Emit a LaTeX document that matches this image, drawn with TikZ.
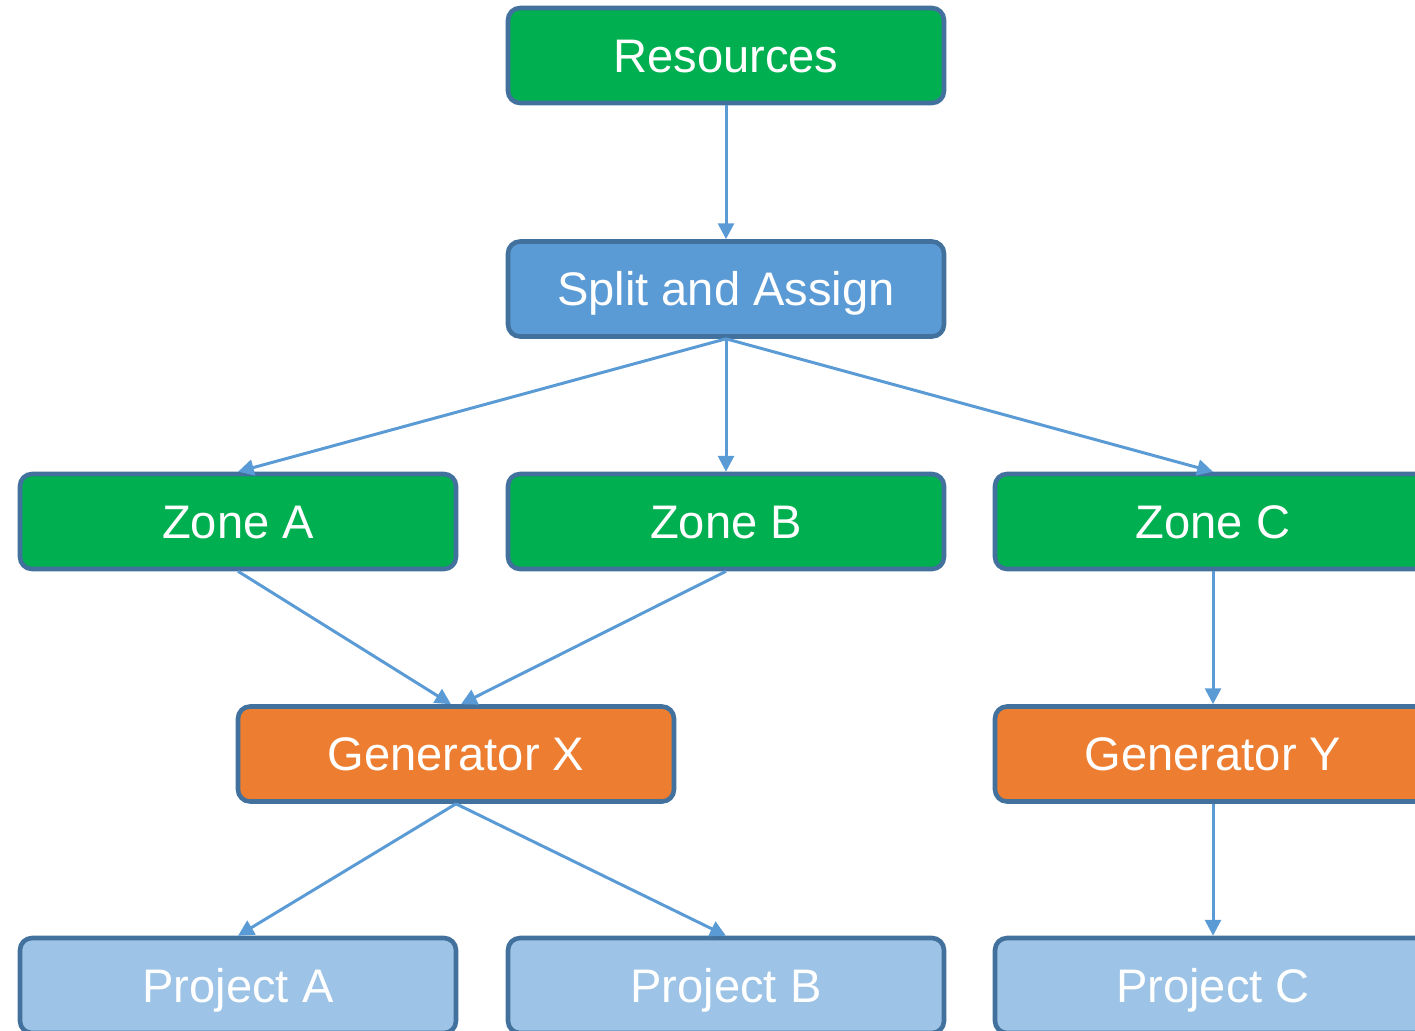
\documentclass[tikz,border=0pt]{standalone}
\usepackage{fontspec}
\setmainfont{Liberation Sans}
\usetikzlibrary{arrows.meta}
\definecolor{boxgreen}{HTML}{00B050}
\definecolor{boxblue}{HTML}{5B9BD5}
\definecolor{boxorange}{HTML}{ED7D31}
\definecolor{boxlight}{HTML}{9DC3E6}
\definecolor{boxedge}{HTML}{41719C}
\definecolor{linkblue}{HTML}{5B9BD5}
\begin{document}
\begin{tikzpicture}[
    box/.style={draw=boxedge,line width=1.3pt,rounded corners=0.12cm,minimum width=4.36cm,minimum height=0.95cm,text=white,font=\fontsize{13.4}{16}\selectfont,inner sep=0pt,text height=9.6pt,text depth=0pt},
    greenbox/.style={box,fill=boxgreen},
    bluebox/.style={box,fill=boxblue},
    orangebox/.style={box,fill=boxorange},
    lightbox/.style={box,fill=boxlight},
    link/.style={draw=linkblue,line width=0.85pt,-{Triangle[width=4.5pt,length=4.5pt]}}
  ]
    \useasboundingbox (0,0) rectangle (14.15,-10.30);
    \node[greenbox] (res) at (7.26,-0.555) {Resources};
    \node[bluebox] (split) at (7.26,-2.89) {Split and Assign};
    \node[greenbox] (zoneA) at (2.38,-5.215) {Zone A};
    \node[greenbox] (zoneB) at (7.26,-5.215) {Zone B};
    \node[greenbox] (zoneC) at (12.13,-5.215) {Zone C};
    \node[orangebox] (genX) at (4.56,-7.54) {Generator X};
    \node[orangebox] (genY) at (12.13,-7.54) {Generator Y};
    \node[lightbox] (projA) at (2.38,-9.855) {Project A};
    \node[lightbox] (projB) at (7.26,-9.855) {Project B};
    \node[lightbox] (projC) at (12.13,-9.855) {Project C};

    \draw[link] (res.south) -- (split.north);
    \draw[link] (split.south) -- (zoneA.north);
    \draw[link] (split.south) -- (zoneB.north);
    \draw[link] (split.south) -- (zoneC.north);
    \draw[link] (zoneA.south) -- ([xshift=-0.05cm]genX.north);
    \draw[link] (zoneB.south) -- ([xshift=0.05cm]genX.north);
    \draw[link] (zoneC.south) -- (genY.north);
    \draw[link] (genX.south) -- (projA.north);
    \draw[link] (genX.south) -- (projB.north);
    \draw[link] (genY.south) -- (projC.north);
\end{tikzpicture}
\end{document}
